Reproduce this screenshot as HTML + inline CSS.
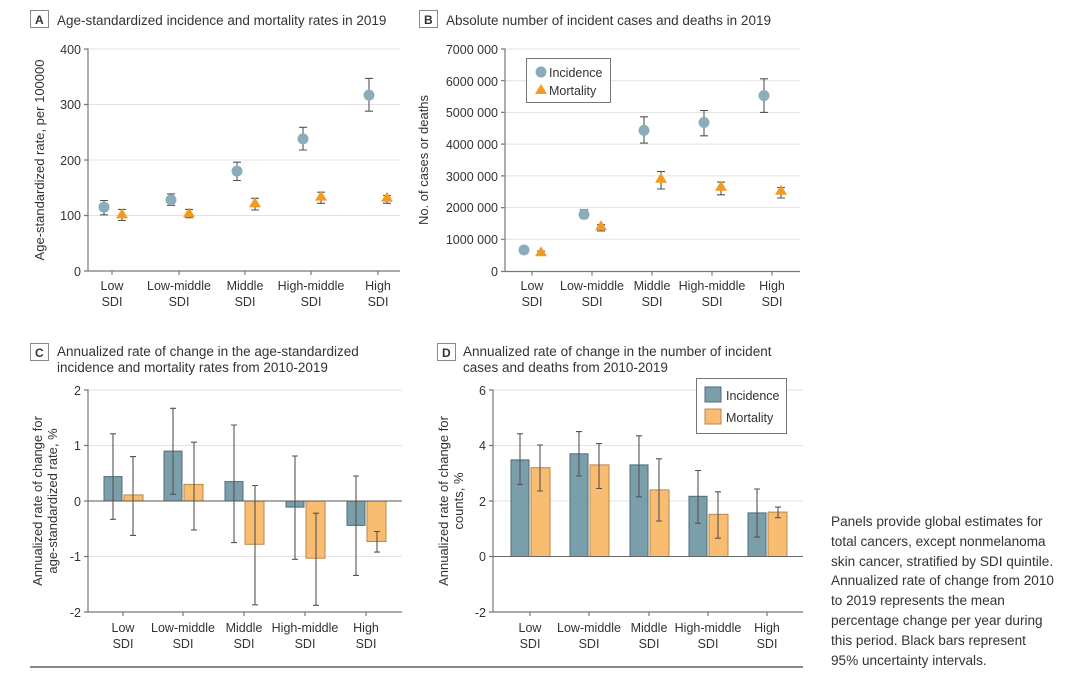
<!DOCTYPE html>
<html><head><meta charset="utf-8"><style>
body{margin:0;background:#fff;width:1080px;height:686px;overflow:hidden;font-family:"Liberation Sans",sans-serif;}
svg text{font-family:"Liberation Sans",sans-serif;fill:#333;}
.t{font-size:13.5px;}
.k{font-size:12.5px;}
.y{font-size:13px;}
.g{stroke:#e3e3e3;stroke-width:1;}
.ax{stroke:#777;stroke-width:1.2;fill:none;}
.e{stroke:#555;stroke-width:1.1;fill:none;}
.bi{fill:#7b9eab;stroke:#4e6c78;stroke-width:1;}
.bm{fill:#f9bd72;stroke:#b9874a;stroke-width:1;}
.ci{fill:#8badb9;}
.tm{fill:#f39a22;}
#note{position:absolute;left:831px;top:512px;font-size:13.6px;line-height:19.8px;color:#333;white-space:nowrap;}
</style></head><body>
<svg width="1080" height="686" style="position:absolute;left:0;top:0">
<!-- Panel A -->
<rect x="30.5" y="10.5" width="18" height="17" fill="#fff" stroke="#888"/>
<text x="35" y="24" font-size="12" font-weight="bold">A</text>
<text x="57" y="25" class="t">Age-standardized incidence and mortality rates in 2019</text>
<g class="g"><line x1="88" x2="400" y1="49" y2="49"/><line x1="88" x2="400" y1="104.5" y2="104.5"/><line x1="88" x2="400" y1="160" y2="160"/><line x1="88" x2="400" y1="215.5" y2="215.5"/></g>
<path class="ax" d="M84 49H88V271H400M84 104.5H88M84 160H88M84 215.5H88M84 271H88M112 271v4M179 271v4M245 271v4M311 271v4M378 271v4"/>
<g class="k" text-anchor="end"><text x="81" y="54">400</text><text x="81" y="109">300</text><text x="81" y="165">200</text><text x="81" y="220">100</text><text x="81" y="276">0</text></g>
<text transform="translate(44 160) rotate(-90)" class="y" text-anchor="middle">Age-standardized rate, per 100000</text>
<g class="k" text-anchor="middle">
<text x="112" y="290">Low</text><text x="112" y="306">SDI</text>
<text x="179" y="290">Low-middle</text><text x="179" y="306">SDI</text>
<text x="245" y="290">Middle</text><text x="245" y="306">SDI</text>
<text x="311" y="290">High-middle</text><text x="311" y="306">SDI</text>
<text x="378" y="290">High</text><text x="378" y="306">SDI</text></g>
<path class="e" d="M104 214.8V200.5M100 214.8h8M100 200.5h8 M122 220.5V209.4M118 220.5h8M118 209.4h8
M171 205.5V193.9M167 205.5h8M167 193.9h8 M189 217.7V209.4M185 217.7h8M185 209.4h8
M237 180.5V162.2M233 180.5h8M233 162.2h8 M255 210V198.3M251 210h8M251 198.3h8
M303 150V127.3M299 150h8M299 127.3h8 M321 203.3V192.2M317 203.3h8M317 192.2h8
M369 111.2V78.4M365 111.2h8M365 78.4h8 M387 203.3V195.5M383 203.3h8M383 195.5h8"/>
<g class="ci"><circle cx="104" cy="207.2" r="5.5"/><circle cx="171" cy="200" r="5.5"/><circle cx="237" cy="171.1" r="5.5"/><circle cx="303" cy="138.9" r="5.5"/><circle cx="369" cy="95.1" r="5.5"/></g>
<g class="tm"><path d="M122 208.4l6 10h-12z"/><path d="M189 207.3l6 10h-12z"/><path d="M255 197.3l6 10h-12z"/><path d="M321 190.6l6 10h-12z"/><path d="M387 191.7l6 10h-12z"/></g>

<!-- Panel B -->
<rect x="419.5" y="10.5" width="18" height="17" fill="#fff" stroke="#888"/>
<text x="424" y="24" font-size="12" font-weight="bold">B</text>
<text x="446" y="25" class="t">Absolute number of incident cases and deaths in 2019</text>
<g class="g"><line x1="505" x2="800" y1="49" y2="49"/><line x1="505" x2="800" y1="80.7" y2="80.7"/><line x1="505" x2="800" y1="112.4" y2="112.4"/><line x1="505" x2="800" y1="144.1" y2="144.1"/><line x1="505" x2="800" y1="175.9" y2="175.9"/><line x1="505" x2="800" y1="207.6" y2="207.6"/><line x1="505" x2="800" y1="239.3" y2="239.3"/></g>
<path class="ax" d="M501 49H505V271.5H800M501 80.7h4M501 112.4h4M501 144.1h4M501 175.9h4M501 207.6h4M501 239.3h4M501 271.5h4M532 271.5v4M592 271.5v4M652 271.5v4M712 271.5v4M772 271.5v4"/>
<g class="k" text-anchor="end"><text x="498" y="54">7000 000</text><text x="498" y="86">6000 000</text><text x="498" y="117">5000 000</text><text x="498" y="149">4000 000</text><text x="498" y="181">3000 000</text><text x="498" y="212">2000 000</text><text x="498" y="244">1000 000</text><text x="498" y="276">0</text></g>
<text transform="translate(428 160) rotate(-90)" class="y" text-anchor="middle">No. of cases or deaths</text>
<g class="k" text-anchor="middle">
<text x="532" y="290">Low</text><text x="532" y="306">SDI</text>
<text x="592" y="290">Low-middle</text><text x="592" y="306">SDI</text>
<text x="652" y="290">Middle</text><text x="652" y="306">SDI</text>
<text x="712" y="290">High-middle</text><text x="712" y="306">SDI</text>
<text x="772" y="290">High</text><text x="772" y="306">SDI</text></g>
<rect x="526.5" y="58.5" width="84" height="44" fill="#fff" stroke="#777"/>
<circle cx="541" cy="72" r="5.5" class="ci"/><text x="549" y="77" class="k">Incidence</text>
<path d="M541 84l6 10h-12z" class="tm"/><text x="549" y="95" class="k">Mortality</text>
<path class="e" d="M524 252.5V247.5M520 252.5h8M520 247.5h8 M541 255V251M537 255h8M537 251h8
M584 218.2V209.7M580 218.2h8M580 209.7h8 M601 230.9V224.6M597 230.9h8M597 224.6h8
M644 143.1V116.8M640 143.1h8M640 116.8h8 M661 189V171.6M657 189h8M657 171.6h8
M704 135.8V110.5M700 135.8h8M700 110.5h8 M721 194.8V182.1M717 194.8h8M717 182.1h8
M764 112.4V78.8M760 112.4h8M760 78.8h8 M781 198V187.5M777 198h8M777 187.5h8"/>
<g class="ci"><circle cx="524" cy="250" r="5.5"/><circle cx="584" cy="214.4" r="5.5"/><circle cx="644" cy="130.4" r="5.5"/><circle cx="704" cy="122.5" r="5.5"/><circle cx="764" cy="95.6" r="5.5"/></g>
<g class="tm"><path d="M541 246.3l6 10h-12z"/><path d="M601 220.3l6 10h-12z"/><path d="M661 172.8l6 10h-12z"/><path d="M721 180.7l6 10h-12z"/><path d="M781 184.8l6 10h-12z"/></g>

<!-- Panel C -->
<rect x="30.5" y="343.5" width="18" height="17" fill="#fff" stroke="#888"/>
<text x="35" y="357" font-size="12" font-weight="bold">C</text>
<text x="57" y="356" class="t">Annualized rate of change in the age-standardized</text>
<text x="57" y="372" class="t">incidence and mortality rates from 2010-2019</text>
<g class="g"><line x1="88" x2="402" y1="390" y2="390"/><line x1="88" x2="402" y1="445.5" y2="445.5"/><line x1="88" x2="402" y1="556.5" y2="556.5"/></g>
<g>
<rect class="bi" x="104" y="476.6" width="18" height="24.4"/><rect class="bm" x="124" y="494.9" width="19" height="6.1"/>
<rect class="bi" x="164" y="451.1" width="18" height="49.9"/><rect class="bm" x="184" y="484.4" width="19" height="16.6"/>
<rect class="bi" x="225" y="481.6" width="18" height="19.4"/><rect class="bm" x="245" y="501" width="19" height="43.3"/>
<rect class="bi" x="286" y="501" width="18" height="6.1"/><rect class="bm" x="306" y="501" width="19" height="57.2"/>
<rect class="bi" x="347" y="501" width="18" height="24.4"/><rect class="bm" x="367" y="501" width="19" height="40.5"/>
</g>
<path class="ax" d="M84 390H88V612H402M84 445.5h4M84 501h4M84 556.5h4M84 612h4M123 612v4M183 612v4M244 612v4M305 612v4M366 612v4"/>
<line x1="88" x2="402" y1="501" y2="501" stroke="#555" stroke-width="1.1"/>
<g class="k" text-anchor="end"><text x="81" y="395">2</text><text x="81" y="450">1</text><text x="81" y="506">0</text><text x="81" y="561">-1</text><text x="81" y="617">-2</text></g>
<text transform="translate(42 501) rotate(-90)" class="y" text-anchor="middle">Annualized rate of change for</text>
<text transform="translate(57 501) rotate(-90)" class="y" text-anchor="middle">age-standardized rate, %</text>
<g class="k" text-anchor="middle">
<text x="123" y="632">Low</text><text x="123" y="648">SDI</text>
<text x="183" y="632">Low-middle</text><text x="183" y="648">SDI</text>
<text x="244" y="632">Middle</text><text x="244" y="648">SDI</text>
<text x="305" y="632">High-middle</text><text x="305" y="648">SDI</text>
<text x="366" y="632">High</text><text x="366" y="648">SDI</text></g>
<path class="e" d="M113 519.3V433.8M110 519.3h6M110 433.8h6 M133 535.4V456.6M130 535.4h6M130 456.6h6
M173 494.3V408.3M170 494.3h6M170 408.3h6 M194 529.9V442.2M191 529.9h6M191 442.2h6
M234 542.6V425M231 542.6h6M231 425h6 M255 604.8V485.5M252 604.8h6M252 485.5h6
M295 559.3V456M292 559.3h6M292 456h6 M316 605.3V513.2M313 605.3h6M313 513.2h6
M356 575.4V476M353 575.4h6M353 476h6 M377 552.1V531.5M374 552.1h6M374 531.5h6"/>

<!-- Panel D -->
<rect x="437.5" y="343.5" width="18" height="17" fill="#fff" stroke="#888"/>
<text x="442" y="357" font-size="12" font-weight="bold">D</text>
<text x="463" y="356" class="t">Annualized rate of change in the number of incident</text>
<text x="463" y="372" class="t">cases and deaths from 2010-2019</text>
<g class="g"><line x1="493" x2="803" y1="390" y2="390"/><line x1="493" x2="803" y1="445.5" y2="445.5"/><line x1="493" x2="803" y1="501" y2="501"/></g>
<g>
<rect class="bi" x="511" y="459.9" width="18" height="96.6"/><rect class="bm" x="531" y="467.7" width="19" height="88.8"/>
<rect class="bi" x="570" y="453.8" width="18" height="102.7"/><rect class="bm" x="590" y="464.9" width="19" height="91.6"/>
<rect class="bi" x="630" y="464.9" width="18" height="91.6"/><rect class="bm" x="650" y="489.9" width="19" height="66.6"/>
<rect class="bi" x="689" y="496.3" width="18" height="60.2"/><rect class="bm" x="709" y="514.3" width="19" height="42.2"/>
<rect class="bi" x="748" y="512.9" width="18" height="43.6"/><rect class="bm" x="768" y="512.1" width="19" height="44.4"/>
</g>
<path class="ax" d="M489 390H493V612H803M489 445.5h4M489 501h4M489 556.5h4M489 612h4M530 612v4M589 612v4M649 612v4M708 612v4M767 612v4"/>
<line x1="493" x2="803" y1="556.5" y2="556.5" stroke="#666" stroke-width="1.1"/>
<g class="k" text-anchor="end"><text x="486" y="395">6</text><text x="486" y="450">4</text><text x="486" y="506">2</text><text x="486" y="561">0</text><text x="486" y="617">-2</text></g>
<text transform="translate(448 501) rotate(-90)" class="y" text-anchor="middle">Annualized rate of change for</text>
<text transform="translate(463 501) rotate(-90)" class="y" text-anchor="middle">counts, %</text>
<g class="k" text-anchor="middle">
<text x="530" y="632">Low</text><text x="530" y="648">SDI</text>
<text x="589" y="632">Low-middle</text><text x="589" y="648">SDI</text>
<text x="649" y="632">Middle</text><text x="649" y="648">SDI</text>
<text x="708" y="632">High-middle</text><text x="708" y="648">SDI</text>
<text x="767" y="632">High</text><text x="767" y="648">SDI</text></g>
<rect x="696.5" y="378.5" width="90" height="55" fill="#fff" stroke="#777"/>
<rect class="bi" x="705" y="387" width="16" height="15"/><text x="726" y="400" class="k">Incidence</text>
<rect class="bm" x="705" y="409" width="16" height="15"/><text x="726" y="422" class="k">Mortality</text>
<path class="e" d="M520 484.4V433.8M517 484.4h6M517 433.8h6 M540 491V445M537 491h6M537 445h6
M579 476V431.6M576 476h6M576 431.6h6 M599 488.5V443.6M596 488.5h6M596 443.6h6
M639 496.8V435.8M636 496.8h6M636 435.8h6 M659 521V458.8M656 521h6M656 458.8h6
M698 523.2V470.5M695 523.2h6M695 470.5h6 M718 538.2V491.8M715 538.2h6M715 491.8h6
M757 537.1V489M754 537.1h6M754 489h6 M778 517.7V507.1M775 517.7h6M775 507.1h6"/>

<line x1="30" x2="803" y1="667" y2="667" stroke="#444" stroke-width="1.3"/>
</svg>
<div id="note">Panels provide global estimates for<br>total cancers, except nonmelanoma<br>skin cancer, stratified by SDI quintile.<br>Annualized rate of change from 2010<br>to 2019 represents the mean<br>percentage change per year during<br>this period. Black bars represent<br>95% uncertainty intervals.</div>
</body></html>
